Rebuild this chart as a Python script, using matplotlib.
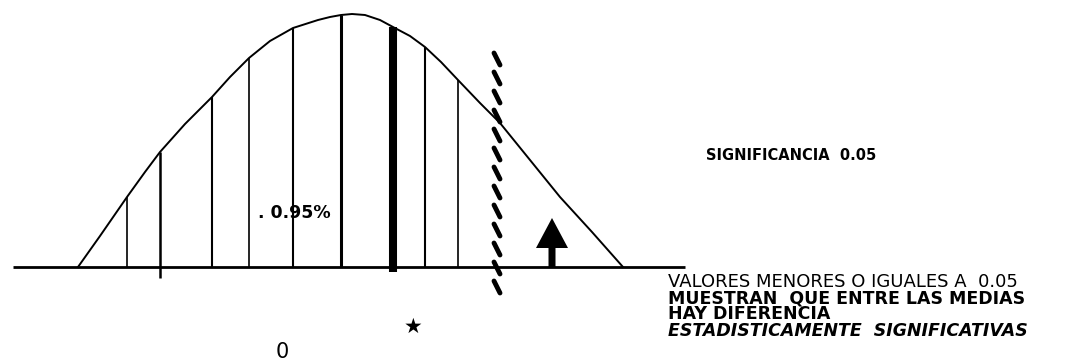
import numpy as np
import matplotlib
matplotlib.use("Agg")
import matplotlib.pyplot as plt
from matplotlib.collections import LineCollection

# curva (x en px, altura sobre la base en px)
curve_x = [78, 100, 127, 145, 160, 185, 212, 230, 249, 270, 293, 318, 330, 341, 352, 365, 380, 393,
           410, 425, 441, 458, 480, 500, 530, 560, 592, 623]
curve_h = [0, 31, 70, 95, 115, 143, 170, 190, 209, 226, 239, 247, 250, 252, 253, 252, 247, 240,
           231, 220, 205, 187, 164, 144, 107, 70, 35, 0]

# lineas verticales bajo la curva
line_x = [127, 160, 212, 249, 293, 341, 425, 458]
line_w = [1.2, 1.8, 1.5, 1.2, 1.5, 2.2, 1.5, 1.2]
mean_x = 393
crit_x = 497
arrow_x = 552

right_lines = ["VALORES MENORES O IGUALES A  0.05",
               "MUESTRAN  QUE ENTRE LAS MEDIAS",
               "HAY DIFERENCIA",
               "ESTADISTICAMENTE  SIGNIFICATIVAS"]

plt.rcParams['font.family'] = ['DejaVu Sans']

fig = plt.figure(figsize=(10.84, 3.64), dpi=100)
ax = fig.add_axes([0, 0, 1, 1])
ax.set_xlim(0, 1084)
ax.set_ylim(-97, 267)
ax.axis("off")

# base
ax.hlines(0, 13, 685, color="black", lw=2)
# curva
ax.plot(curve_x, curve_h, color="black", lw=1.4)

tops = np.interp(line_x, curve_x, curve_h)
for x, t, w in zip(line_x, tops, line_w):
    ax.vlines(x, 0, t, color="black", lw=w)
ax.vlines(160, -11, 0, color="black", lw=1.8)

# media
ax.vlines(mean_x, -5, np.interp(mean_x, curve_x, curve_h), color="black", lw=5.8)

# linea critica de rayas inclinadas
centers = np.arange(-20, 217, 19)
segs = [[(crit_x - 3, c + 6), (crit_x + 3, c - 6)] for c in centers]
ax.add_collection(LineCollection(segs, colors="black", linewidths=3.5, capstyle="round"))

# flecha
ax.arrow(arrow_x, 0, 0, 49, width=7, head_width=32, head_length=30,
         length_includes_head=True, fc="black", ec="none")

ax.text(258, 54, ". 0.95%", fontsize=12.5, fontweight="bold", va="center")
ax.text(282, -85, "0", fontsize=15, va="center", ha="center")
ax.text(413, -60, "\u2605", fontsize=15, va="center", ha="center")
ax.text(706, 112, "SIGNIFICANCIA  0.05", fontsize=10.5, fontweight="bold", va="center")

ys = [-15, -31, -47, -64]
for i, (s, y) in enumerate(zip(right_lines, ys)):
    ax.text(668, y, s, fontsize=13 if i == 0 else 12.5,
            fontweight="normal" if i == 0 else "bold",
            fontstyle="italic" if i == 3 else "normal", va="center")

fig.savefig("out.png", dpi=100)
